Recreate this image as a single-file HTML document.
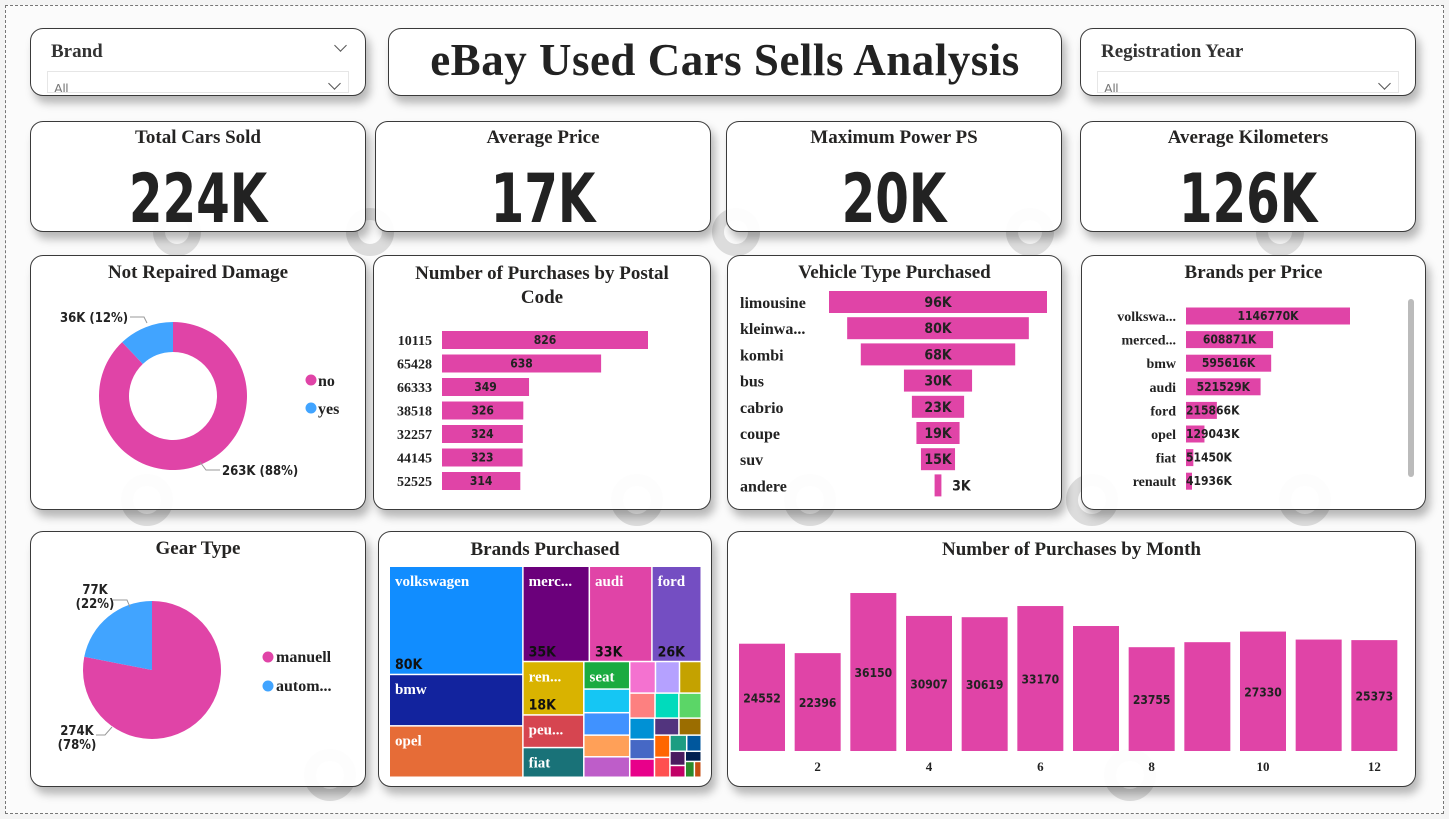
<!DOCTYPE html>
<html><head><meta charset="utf-8">
<style>
*{box-sizing:border-box;margin:0;padding:0}
body{width:1449px;height:819px;background:#f4f4f4;position:relative;overflow:hidden;font-family:"Liberation Serif",serif}
#page{position:absolute;left:5px;top:5px;width:1439px;height:809px;border:1px dashed #777;background:#fbfbfb}
.card{position:absolute;border:1px solid #3a3a3a;border-radius:13px;background:rgba(255,255,255,0.93);box-shadow:4px 7px 9px rgba(0,0,0,0.28)}
.ttl{position:absolute;left:0;right:0;text-align:center;font-weight:bold;color:#252423;font-size:19px}
.kpi{position:absolute;left:0;right:0;top:38px;text-align:center;font-family:"Liberation Sans Narrow","DejaVu Sans Condensed","Liberation Sans",sans-serif;font-weight:bold;font-size:68px;color:#222;transform:scaleX(0.79)}
.slab{position:absolute;left:20px;top:12px;font-weight:bold;font-size:19px;color:#333}
.sbox{position:absolute;left:16px;right:16px;top:42px;height:22px;border:1px solid #e6e6e6;font-family:"Liberation Sans",sans-serif;font-size:13px;color:#777;padding:9px 0 0 6px;overflow:hidden}
.chev{position:absolute;width:9px;height:9px;border-right:1.3px solid #555;border-bottom:1.3px solid #555;transform:rotate(45deg)}
svg{position:absolute;left:0;top:0}
</style></head><body>
<div id="page"></div>
<svg width="1449" height="819">
 <g fill="none" stroke="#bdbdbd" stroke-width="12" opacity="0.5">
  <circle cx="177" cy="232" r="18"/><circle cx="370" cy="232" r="18"/><circle cx="736" cy="232" r="18"/><circle cx="1030" cy="232" r="18"/><circle cx="1280" cy="232" r="18"/>
  <circle cx="147" cy="500" r="20"/><circle cx="637" cy="500" r="20"/><circle cx="810" cy="500" r="20"/><circle cx="1092" cy="500" r="20"/><circle cx="1305" cy="500" r="20"/>
  <circle cx="330" cy="775" r="20"/><circle cx="1130" cy="775" r="20"/>
 </g>
</svg>
<div class="card" style="left:30px;top:28px;width:336px;height:68px">
 <div class="slab">Brand</div>
 <div class="chev" style="right:20px;top:12px"></div>
 <div class="sbox">All</div>
 <div class="chev" style="right:26px;top:50px"></div>
</div>
<div class="card" style="left:388px;top:28px;width:674px;height:68px">
 <div class="ttl" style="top:5px;font-size:45px;color:#222;letter-spacing:0.5px">eBay Used Cars Sells Analysis</div>
</div>
<div class="card" style="left:1080px;top:28px;width:336px;height:68px">
 <div class="slab">Registration Year</div>
 <div class="sbox">All</div>
 <div class="chev" style="right:26px;top:50px"></div>
</div>

<div class="card" style="left:30px;top:121px;width:336px;height:111px"><div class="ttl" style="top:5px">Total Cars Sold</div><div class="kpi">224K</div></div>
<div class="card" style="left:375px;top:121px;width:336px;height:111px"><div class="ttl" style="top:5px">Average Price</div><div class="kpi">17K</div></div>
<div class="card" style="left:726px;top:121px;width:336px;height:111px"><div class="ttl" style="top:5px">Maximum Power PS</div><div class="kpi">20K</div></div>
<div class="card" style="left:1080px;top:121px;width:336px;height:111px"><div class="ttl" style="top:5px">Average Kilometers</div><div class="kpi">126K</div></div>

<div class="card" style="left:30px;top:255px;width:336px;height:255px"><div class="ttl" style="top:6px">Not Repaired Damage</div></div>
<div class="card" style="left:373px;top:255px;width:338px;height:255px"><div class="ttl" style="top:6px;line-height:24px">Number of Purchases by Postal<br>Code</div></div>
<div class="card" style="left:727px;top:255px;width:335px;height:255px"><div class="ttl" style="top:6px">Vehicle Type Purchased</div></div>
<div class="card" style="left:1081px;top:255px;width:345px;height:255px"><div class="ttl" style="top:6px">Brands per Price</div>
 <div style="position:absolute;left:326px;top:43px;width:6px;height:178px;background:#bbb;border-radius:3px"></div></div>
<div class="card" style="left:30px;top:531px;width:336px;height:256px"><div class="ttl" style="top:6px">Gear Type</div></div>
<div class="card" style="left:378px;top:531px;width:334px;height:256px"><div class="ttl" style="top:7px">Brands Purchased</div></div>
<div class="card" style="left:727px;top:531px;width:689px;height:256px"><div class="ttl" style="top:7px">Number of Purchases by Month</div></div>

<svg id="ch" width="1449" height="819"></svg>
<script>
// ---- data ----
const damageCats=["no","yes"];
const damageVals=[263,36];
const damageLabels=["263K (88%)","36K (12%)"];
const postalCats=["10115","65428","66333","38518","32257","44145","52525"];
const postalVals=[826,638,349,326,324,323,314];
const vehicleCats=["limousine","kleinwa...","kombi","bus","cabrio","coupe","suv","andere"];
const vehicleVals=[96,80,68,30,23,19,15,3];
const priceCats=["volkswa...","merced...","bmw","audi","ford","opel","fiat","renault"];
const priceVals=[1146770,608871,595616,521529,215866,129043,51450,41936];
const gearCats=["manuell","autom..."];
const gearVals=[274,77];
const gearLabels=[["274K","(78%)"],["77K","(22%)"]];
const monthCats=[1,2,3,4,5,6,7,8,9,10,11,12];
const monthVals=[24552,22396,36150,30907,30619,33170,28600,23755,24900,27330,25500,25373];
const monthShown=[true,true,true,true,true,true,false,true,false,true,false,true];
const monthTicks=[2,4,6,8,10,12];
const tmNames=["volkswagen","bmw","opel","merc...","audi","ford","ren...","peu...","fiat","seat","","","","","","","","","","","","","","","","","","","","","","","",""];
const tmVals=[80,38,38,35,33,26,18,11,10,7,6,5.7,5.5,5.2,4.5,4.2,3.8,3.5,3.3,3.1,2.9,2.7,2.5,2.3,2.1,1.9,1.7,1.5,1.3,1.2,1.0,0.9,0.8,0.6];
const tmValLabels=["80K","","","35K","33K","26K","18K"];
const tmGroups=[3,3,3,5];

const PINK="#e044a7",BLUE="#41a4ff";
const NUM='"Liberation Sans Narrow","DejaVu Sans Condensed","Liberation Sans",sans-serif';
const svg=document.getElementById('ch');
const NS="http://www.w3.org/2000/svg";
function el(t,a,p){const e=document.createElementNS(NS,t);for(const k in a)e.setAttribute(k,a[k]);(p||svg).appendChild(e);return e;}
function txt(x,y,s,a){const e=el('text',Object.assign({x:x,y:y},a));e.textContent=s;return e;}
function arc(cx,cy,r,ri,a0,a1){const p=(a,rr)=>[cx+rr*Math.sin(a),cy-rr*Math.cos(a)];const lg=(a1-a0)>Math.PI?1:0;
 const [x0,y0]=p(a0,r),[x1,y1]=p(a1,r);
 if(ri>0){const [x2,y2]=p(a1,ri),[x3,y3]=p(a0,ri);return `M${x0},${y0}A${r},${r} 0 ${lg} 1 ${x1},${y1}L${x2},${y2}A${ri},${ri} 0 ${lg} 0 ${x3},${y3}Z`;}
 return `M${cx},${cy}L${x0},${y0}A${r},${r} 0 ${lg} 1 ${x1},${y1}Z`;}

// donut
(function(){const cx=173,cy=396,tot=damageVals.reduce((a,b)=>a+b,0);let a=0;const cols=[PINK,BLUE];
 damageVals.forEach((v,i)=>{const da=v/tot*2*Math.PI;const p=el('path',{d:arc(cx,cy,74,44,a,a+da),fill:cols[i]});
  a+=da;});
 el('polyline',{points:"130,317 144,317 147,323",fill:"none",stroke:"#999"});
 el('polyline',{points:"200,462 206,470 220,470",fill:"none",stroke:"#999"});
 const l1=txt(60,322,damageLabels[1],{'font-family':NUM,'font-size':13,'font-weight':'bold',fill:'#222'});
 const l0=txt(222,475,damageLabels[0],{'font-family':NUM,'font-size':13,'font-weight':'bold',fill:'#222'});
 damageCats.forEach((c,i)=>{const g=el('g',{});
  el('circle',{cx:311,cy:380+i*28,r:5.5,fill:cols[i]},g);const t=txt(318,386+i*28,c,{'font-size':16,'font-weight':'bold',fill:'#222'});g.appendChild(t);});
})();

// postal bars
(function(){const x0=442,sc=206/826,y0=340,step=23.5;
 postalCats.forEach((c,i)=>{const y=y0+i*step;const w=postalVals[i]*sc;
  const r=el('rect',{x:x0,y:y-9,width:w,height:18,fill:PINK});
  const t=txt(432,y+5,c,{'font-size':14,'font-weight':'bold','text-anchor':'end',fill:'#222'});
  const v=txt(x0+w/2,y+4,postalVals[i],{'font-family':NUM,'font-size':12,'font-weight':'bold','text-anchor':'middle',fill:'#222'});});
})();

// funnel
(function(){const cx=938,sc=218/96,y0=302,step=26.2;
 vehicleCats.forEach((c,i)=>{const y=y0+i*step,w=vehicleVals[i]*sc;
  const r=el('rect',{x:cx-w/2,y:y-11,width:w,height:22,fill:PINK});
  const t=txt(740,y+6,c,{'font-size':16,'font-weight':'bold',fill:'#222'});
  const inside=w>30;const v=txt(inside?cx:cx+w/2+20,y+5,vehicleVals[i]+'K',{'font-family':NUM,'font-size':14,'font-weight':'bold','text-anchor':'middle',fill:'#222'});});
})();

// brands per price
(function(){const x0=1186,sc=164/1146770,y0=316,step=23.6;
 priceCats.forEach((c,i)=>{const y=y0+i*step,w=priceVals[i]*sc;
  const r=el('rect',{x:x0,y:y-8.5,width:w,height:17,fill:PINK});
  const t=txt(1176,y+5,c,{'font-size':14,'font-weight':'bold','text-anchor':'end',fill:'#222'});
  const lab=priceVals[i]+'K';const inside=w>70;
  const v=txt(inside?x0+w/2:x0,y+4,lab,{'font-family':NUM,'font-size':12,'font-weight':'bold','text-anchor':inside?'middle':'start',fill:'#222'});});
})();

// gear pie
(function(){const cx=152,cy=670,tot=gearVals.reduce((a,b)=>a+b,0);let a=0;const cols=[PINK,BLUE];
 gearVals.forEach((v,i)=>{const da=v/tot*2*Math.PI;const p=el('path',{d:arc(cx,cy,69,0,a,a+da),fill:cols[i]});a+=da;});
 el('polyline',{points:"113,600 127,600 130,607",fill:"none",stroke:"#999"});
 el('polyline',{points:"112,727 105,735 96,735",fill:"none",stroke:"#999"});
 [[95,594],[77,735]].forEach((p,k)=>{const i=k===0?1:0;gearLabels[i].forEach((s,j)=>{const t=txt(p[0],p[1]+j*14,s,{'font-family':NUM,'font-size':13,'font-weight':'bold','text-anchor':'middle',fill:'#222'});});});
 gearCats.forEach((c,i)=>{const g=el('g',{});
  el('circle',{cx:268,cy:657+i*29,r:5.5,fill:cols[i]},g);const t=txt(276,662+i*29,c,{'font-size':16,'font-weight':'bold',fill:'#222'});g.appendChild(t);});
})();

// treemap: leading groups laid as strips, rest squarified
(function(){const X=390,Y=567,W=312,H=211;const tot=tmVals.reduce((a,b)=>a+b,0);
 const cols=["#118dff","#12239e","#e66c37","#6b007b","#e044a7","#744ec2","#d9b300","#d64550","#197278","#1aab40","#15c6f4","#4092ff","#ffa058","#be5dc9","#f472d0","#b5a1ff","#c4a200","#fd8080","#00dbbc","#5bd667","#0091d5","#4668c5","#e8008a","#52347e","#9b6d00","#ff6600","#ff4f4f","#1c9d82","#00579d","#491c5f","#c10066","#002050","#2b8a2b","#c54e13"];
 const items=tmVals.map((v,i)=>({v:v*W*H/tot,i:i}));
 let rect={x:X,y:Y,w:W,h:H};const out=[];
 function worst(row,side){const s=row.reduce((a,b)=>a+b.v,0);let mx=-1,mn=1e9;row.forEach(r=>{mx=Math.max(mx,r.v);mn=Math.min(mn,r.v);});return Math.max(side*side*mx/(s*s),s*s/(side*side*mn));}
 function layout(row){const s=row.reduce((a,b)=>a+b.v,0);
  if(rect.w>=rect.h){const w=s/rect.h;let y=rect.y;row.forEach(r=>{const h=r.v/w;out.push({x:rect.x,y:y,w:w,h:h,i:r.i});y+=h;});rect={x:rect.x+w,y:rect.y,w:rect.w-w,h:rect.h};}
  else{const h=s/rect.w;let x=rect.x;row.forEach(r=>{const w=r.v/h;out.push({x:x,y:rect.y,w:w,h:h,i:r.i});x+=w;});rect={x:rect.x,y:rect.y+h,w:rect.w,h:rect.h-h};}}
 let k=0;
 tmGroups.forEach(n=>{layout(items.slice(k,k+n));k+=n;});
 let row=[];
 while(k<items.length){const side=Math.min(rect.w,rect.h);const it=items[k];
  if(row.length===0||worst(row.concat([it]),side)<=worst(row,side)){row.push(it);k++;}else{layout(row);row=[];}}
 if(row.length)layout(row);
 out.forEach(o=>{const r=el('rect',{x:o.x,y:o.y,width:Math.max(o.w-1.5,0),height:Math.max(o.h-1.5,0),fill:cols[o.i%cols.length]});
  if(tmNames[o.i]){const t=txt(o.x+5,o.y+19,tmNames[o.i],{'font-size':15,'font-weight':'bold',fill:'#fff'});}
  if(tmValLabels[o.i]){const t=txt(o.x+5,o.y+o.h-6,tmValLabels[o.i],{'font-family':NUM,'font-size':14,'font-weight':'bold',fill:'#111'});}});
})();

// month columns
(function(){const x0=739,slot=(1407-739)/12,bw=46,base=751,sc=0.00437;
 monthCats.forEach((m,i)=>{const h=monthVals[i]*sc,x=x0+i*slot;
  const r=el('rect',{x:x,y:base-h,width:bw,height:h,fill:PINK});
  if(monthShown[i]){const t=txt(x+bw/2,base-h/2+5,monthVals[i],{'font-family':NUM,'font-size':12,'font-weight':'bold','text-anchor':'middle',fill:'#222'});}});
 monthTicks.forEach(m=>{const i=monthCats.indexOf(m);const t=txt(x0+i*slot+bw/2,771,m,{'font-size':13,'font-weight':'bold','text-anchor':'middle',fill:'#222'});});
})();
</script>
</body></html>
